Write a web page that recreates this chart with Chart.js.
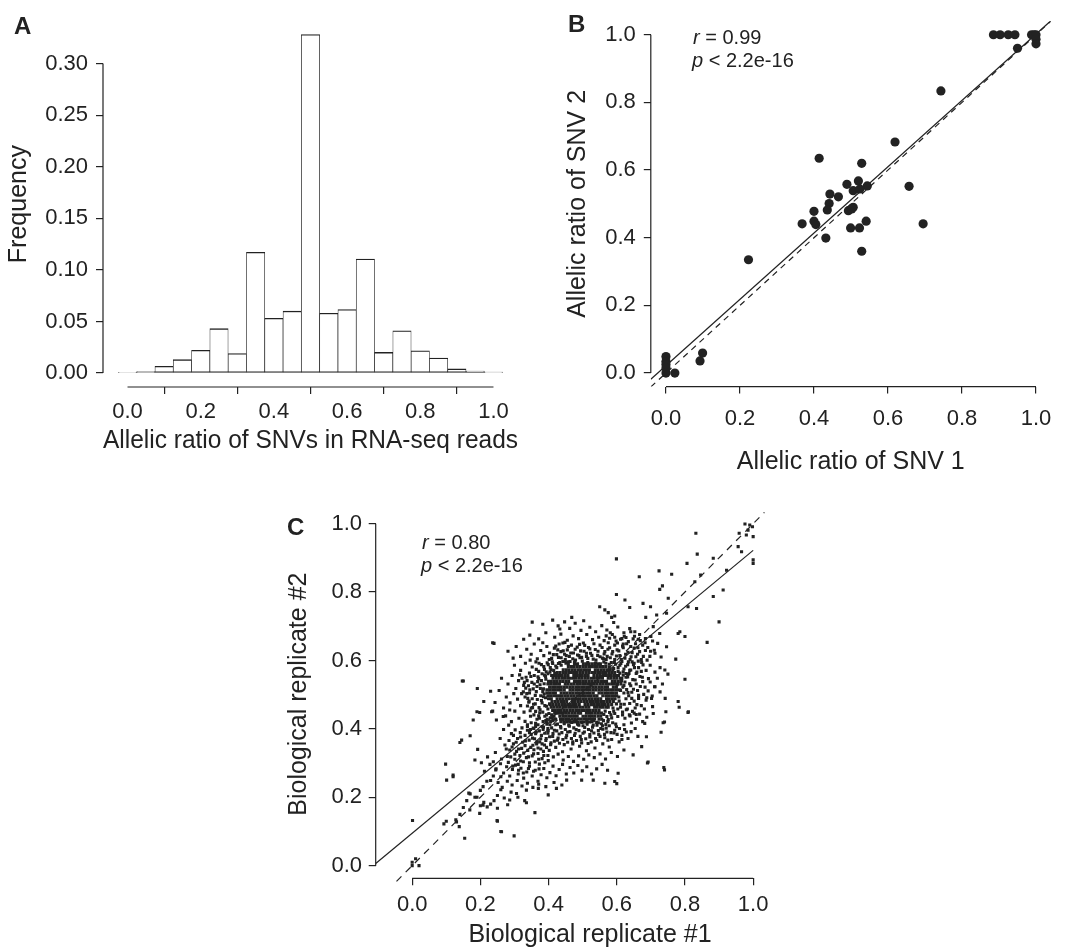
<!DOCTYPE html>
<html>
<head>
<meta charset="utf-8">
<script src="https://cdn.jsdelivr.net/npm/chart.js@4.4.1/dist/chart.umd.min.js"></script>
<style>
  body { margin: 0; background: #fff; width: 1072px; height: 948px; position: relative; overflow: hidden;
         font-family: "Liberation Sans", Arial, sans-serif; color: #222; }
  canvas { position: absolute; }
  .lbl { position: absolute; font-weight: bold; font-size: 24px; line-height: 1; }
  .note { position: absolute; font-size: 20px; line-height: 1; white-space: nowrap; }
</style>
</head>
<body>
<canvas id="histChart" width="530" height="470" style="left:0;top:0"></canvas>
<canvas id="snvChart" width="542" height="480" style="left:530px;top:0"></canvas>
<canvas id="repChart" width="540" height="458" style="left:280px;top:490px"></canvas>

<div class="lbl" style="left:14px;top:14px">A</div>
<div class="lbl" style="left:568px;top:12px">B</div>
<div class="lbl" style="left:287px;top:515px">C</div>
<div class="note" style="left:693px;top:27px"><i>r</i> = 0.99</div>
<div class="note" style="left:692px;top:50px"><i>p</i> &lt; 2.2e-16</div>
<div class="note" style="left:422px;top:532px"><i>r</i> = 0.80</div>
<div class="note" style="left:421px;top:555px"><i>p</i> &lt; 2.2e-16</div>

<script>
// ---- data ----
const binCenters = [0, 0.05, 0.1, 0.15, 0.2, 0.25, 0.3, 0.35, 0.4, 0.45, 0.5,
  0.55, 0.6, 0.65, 0.7, 0.75, 0.8, 0.85, 0.9, 0.95, 1.0];
const binFreq = [0.0005, 0.0015, 0.0065, 0.013, 0.022, 0.043, 0.019, 0.117, 0.053, 0.060, 0.328,
  0.058, 0.0615, 0.1105, 0.020, 0.041, 0.0215, 0.0145, 0.004, 0.002, 0.001];
const freqTicks = [0, 0.05, 0.10, 0.15, 0.20, 0.25, 0.30];
const ratioTicks = [0, 0.2, 0.4, 0.6, 0.8, 1.0];

// panel B: allelic ratio of SNV 1 vs SNV 2
const snvPairs = [
  [0.885, 1.0], [0.903, 1.0], [0.925, 1.0], [0.943, 1.0], [0.988, 1.0], [0.995, 1.0], [1.0, 1.0],
  [1.0, 0.987], [1.0, 0.973], [0.95, 0.96], [0.743, 0.834], [0.619, 0.683], [0.414, 0.635],
  [0.529, 0.62], [0.657, 0.552], [0.695, 0.441], [0.489, 0.558], [0.52, 0.568], [0.544, 0.553],
  [0.506, 0.539], [0.524, 0.544], [0.443, 0.529], [0.466, 0.521], [0.441, 0.501], [0.436, 0.482],
  [0.4, 0.478], [0.493, 0.48], [0.506, 0.49], [0.502, 0.485], [0.368, 0.441], [0.4, 0.449],
  [0.405, 0.439], [0.432, 0.399], [0.499, 0.429], [0.523, 0.429], [0.541, 0.449], [0.529, 0.36],
  [0.223, 0.335], [0, 0.049], [0, 0.034], [0, 0.025], [0, 0.015], [0, 0], [0.024, 0],
  [0.092, 0.036], [0.099, 0.059]
];
const snvFit = { intercept: 0.022, slope: 0.98 };

// panel C: replicate #1 vs #2
// solid black centre of the cloud, read row by row: [y, x values]
const coreRows = [
  [0.590, [0.476, 0.485, 0.502, 0.511, 0.519, 0.528, 0.536, 0.545, 0.552]],
  [0.582, [0.458, 0.467, 0.475, 0.484, 0.492, 0.501, 0.509, 0.518, 0.526, 0.535, 0.543, 0.552, 0.560, 0.568]],
  [0.573, [0.443, 0.452, 0.460, 0.469, 0.477, 0.486, 0.494, 0.503, 0.511, 0.520, 0.537, 0.545, 0.554, 0.562, 0.571, 0.579, 0.588]],
  [0.565, [0.425, 0.433, 0.442, 0.450, 0.459, 0.467, 0.476, 0.484, 0.493, 0.501, 0.510, 0.518, 0.527, 0.535, 0.544, 0.552, 0.561, 0.569, 0.578, 0.586, 0.594]],
  [0.556, [0.415, 0.423, 0.432, 0.440, 0.449, 0.457, 0.474, 0.482, 0.491, 0.499, 0.508, 0.516, 0.533, 0.542, 0.550, 0.559, 0.567, 0.576, 0.584, 0.593, 0.600, 0.605]],
  [0.548, [0.413, 0.422, 0.430, 0.439, 0.447, 0.456, 0.464, 0.473, 0.481, 0.490, 0.498, 0.507, 0.515, 0.524, 0.532, 0.541, 0.549, 0.558, 0.575, 0.583, 0.592, 0.600, 0.610]],
  [0.539, [0.400, 0.408, 0.417, 0.425, 0.434, 0.442, 0.451, 0.459, 0.476, 0.485, 0.493, 0.502, 0.510, 0.519, 0.527, 0.536, 0.544, 0.553, 0.561, 0.570, 0.587, 0.595, 0.604, 0.612]],
  [0.531, [0.398, 0.406, 0.415, 0.423, 0.432, 0.449, 0.457, 0.466, 0.474, 0.483, 0.491, 0.500, 0.508, 0.517, 0.525, 0.534, 0.542, 0.551, 0.559, 0.568, 0.576, 0.585, 0.593, 0.602, 0.612]],
  [0.522, [0.403, 0.412, 0.420, 0.429, 0.437, 0.446, 0.454, 0.463, 0.471, 0.480, 0.488, 0.497, 0.505, 0.514, 0.522, 0.531, 0.539, 0.548, 0.556, 0.565, 0.573, 0.590, 0.599]],
  [0.514, [0.395, 0.403, 0.412, 0.420, 0.429, 0.437, 0.446, 0.463, 0.471, 0.480, 0.488, 0.497, 0.505, 0.514, 0.522, 0.531, 0.539, 0.548, 0.556, 0.565, 0.573, 0.582, 0.590, 0.599, 0.608]],
  [0.505, [0.395, 0.403, 0.412, 0.420, 0.437, 0.446, 0.454, 0.463, 0.471, 0.480, 0.488, 0.497, 0.505, 0.514, 0.522, 0.531, 0.548, 0.556, 0.565, 0.573, 0.582, 0.590, 0.599]],
  [0.497, [0.398, 0.406, 0.415, 0.423, 0.432, 0.440, 0.449, 0.457, 0.466, 0.474, 0.483, 0.491, 0.500, 0.508, 0.517, 0.525, 0.534, 0.542, 0.559, 0.568, 0.576, 0.585, 0.593, 0.600]],
  [0.488, [0.400, 0.408, 0.425, 0.434, 0.442, 0.451, 0.459, 0.468, 0.476, 0.485, 0.493, 0.502, 0.510, 0.519, 0.527, 0.536, 0.544, 0.553, 0.570, 0.578, 0.587, 0.595]],
  [0.480, [0.410, 0.419, 0.427, 0.436, 0.444, 0.453, 0.470, 0.478, 0.487, 0.495, 0.504, 0.512, 0.521, 0.529, 0.538, 0.546, 0.555, 0.563, 0.572, 0.580, 0.590]],
  [0.471, [0.405, 0.413, 0.422, 0.430, 0.439, 0.447, 0.456, 0.464, 0.473, 0.481, 0.490, 0.507, 0.515, 0.524, 0.532, 0.541, 0.549, 0.558, 0.566, 0.575, 0.585]],
  [0.463, [0.408, 0.416, 0.425, 0.433, 0.442, 0.450, 0.459, 0.467, 0.476, 0.484, 0.493, 0.501, 0.510, 0.518, 0.535, 0.543, 0.552, 0.560, 0.569, 0.575]],
  [0.454, [0.412, 0.420, 0.429, 0.437, 0.446, 0.454, 0.463, 0.471, 0.480, 0.488, 0.497, 0.505, 0.514, 0.522, 0.531, 0.539, 0.548]],
  [0.446, [0.418, 0.426, 0.435, 0.443, 0.452, 0.460, 0.469, 0.477, 0.486, 0.494, 0.511, 0.520, 0.528, 0.537, 0.546, 0.555]],
  [0.437, [0.433, 0.442, 0.450, 0.459, 0.467, 0.476, 0.484, 0.501, 0.509, 0.518, 0.526, 0.535, 0.545]],
  [0.429, [0.435, 0.443, 0.452, 0.460, 0.469, 0.477, 0.486, 0.494, 0.503, 0.511, 0.520, 0.528, 0.535]],
  [0.420, [0.445, 0.453, 0.462, 0.470, 0.479, 0.487, 0.496, 0.504, 0.513, 0.520]]
];
// dense speckle hugging the centre, as x, y pairs
const midPairs = [
  // above
  0.402,0.603, 0.414,0.617, 0.421,0.642, 0.429,0.609, 0.436,0.626, 0.442,0.651, 0.449,0.603, 0.455,0.631,
  0.461,0.612, 0.467,0.645, 0.473,0.622, 0.479,0.601, 0.484,0.639, 0.489,0.614, 0.494,0.628, 0.499,0.598,
  0.506,0.644, 0.511,0.621, 0.515,0.606, 0.521,0.634, 0.527,0.615, 0.533,0.649, 0.539,0.601, 0.545,0.627,
  0.551,0.611, 0.557,0.638, 0.563,0.619, 0.569,0.603, 0.574,0.633, 0.581,0.608, 0.588,0.626, 0.594,0.645,
  0.599,0.613, 0.606,0.628, 0.613,0.603, 0.619,0.637, 0.626,0.618, 0.476,0.596, 0.515,0.594, 0.456,0.596,
  0.538,0.592, 0.561,0.605, 0.492,0.608, 0.427,0.631, 0.447,0.618,
  // upper sides
  0.364,0.574, 0.372,0.592, 0.381,0.561, 0.386,0.582, 0.393,0.567, 0.399,0.588, 0.407,0.573, 0.411,0.596,
  0.418,0.562, 0.424,0.579, 0.429,0.591, 0.437,0.586, 0.442,0.597, 0.451,0.592, 0.463,0.597,
  0.578,0.581, 0.584,0.594, 0.591,0.576, 0.597,0.589, 0.604,0.568, 0.609,0.586, 0.615,0.597, 0.621,0.575,
  0.627,0.562, 0.632,0.588, 0.638,0.571, 0.645,0.596, 0.652,0.579, 0.659,0.566, 0.568,0.592,
  // left
  0.322,0.548, 0.329,0.536, 0.333,0.519, 0.337,0.541, 0.341,0.526, 0.344,0.505, 0.348,0.553, 0.352,0.488,
  0.355,0.517, 0.358,0.531, 0.361,0.473, 0.364,0.509, 0.367,0.486, 0.369,0.552, 0.372,0.462, 0.375,0.529,
  0.377,0.497, 0.379,0.541, 0.381,0.476, 0.383,0.449, 0.385,0.517, 0.387,0.502, 0.389,0.437, 0.391,0.491,
  0.392,0.545, 0.394,0.466, 0.396,0.428, 0.398,0.458, 0.401,0.445, 0.403,0.473, 0.405,0.432, 0.409,0.441,
  0.413,0.424, 0.416,0.437, 0.421,0.428, 0.338,0.467, 0.346,0.453, 0.357,0.441, 0.366,0.428, 0.374,0.447,
  0.384,0.421, 0.395,0.414, 0.331,0.493, 0.326,0.508, 0.343,0.481, 0.353,0.462, 0.362,0.451, 0.371,0.438,
  0.388,0.557, 0.398,0.561, 0.409,0.556,
  // right
  0.614,0.541, 0.618,0.522, 0.621,0.505, 0.624,0.537, 0.627,0.488, 0.629,0.515, 0.632,0.552, 0.635,0.497,
  0.638,0.474, 0.641,0.526, 0.644,0.507, 0.647,0.544, 0.651,0.481, 0.654,0.461, 0.657,0.531, 0.661,0.512,
  0.664,0.489, 0.668,0.553, 0.672,0.468, 0.676,0.538, 0.679,0.501, 0.683,0.522, 0.599,0.473, 0.603,0.458,
  0.607,0.481, 0.611,0.463, 0.594,0.445, 0.589,0.461, 0.585,0.432, 0.579,0.448, 0.574,0.421, 0.571,0.436,
  0.566,0.452, 0.561,0.424, 0.553,0.437, 0.548,0.428, 0.541,0.419, 0.617,0.441, 0.628,0.456, 0.639,0.438,
  0.622,0.472, 0.646,0.451, 0.657,0.442, 0.633,0.559, 0.619,0.557, 0.609,0.563, 0.688,0.491, 0.693,0.547,
  // below
  0.338,0.407, 0.344,0.389, 0.349,0.418, 0.353,0.373, 0.357,0.401, 0.362,0.386, 0.366,0.362, 0.369,0.412,
  0.373,0.394, 0.377,0.371, 0.381,0.356, 0.385,0.405, 0.389,0.387, 0.392,0.366, 0.396,0.418, 0.399,0.395,
  0.403,0.377, 0.406,0.354, 0.409,0.403, 0.413,0.386, 0.417,0.364, 0.421,0.412, 0.424,0.394, 0.428,0.373,
  0.432,0.358, 0.435,0.407, 0.439,0.389, 0.442,0.369, 0.446,0.415, 0.449,0.398, 0.453,0.381, 0.456,0.361,
  0.459,0.411, 0.463,0.392, 0.467,0.372, 0.471,0.356, 0.474,0.403, 0.478,0.387, 0.482,0.366, 0.485,0.416,
  0.489,0.395, 0.493,0.378, 0.497,0.359, 0.501,0.409, 0.505,0.391, 0.509,0.371, 0.513,0.414, 0.517,0.398,
  0.521,0.383, 0.525,0.362, 0.529,0.405, 0.533,0.388, 0.538,0.372, 0.542,0.411, 0.546,0.395, 0.551,0.378,
  0.555,0.415, 0.559,0.399, 0.564,0.384, 0.569,0.402, 0.574,0.367, 0.578,0.409, 0.583,0.389, 0.588,0.418,
  0.594,0.396, 0.601,0.384, 0.608,0.401, 0.615,0.369, 0.621,0.412, 0.628,0.391, 0.461,0.424, 0.475,0.422,
  0.498,0.419, 0.512,0.423, 0.527,0.421, 0.442,0.426, 0.419,0.429, 0.406,0.421,
  // lower-left lobe along the diagonal
  0.282,0.302, 0.289,0.318, 0.295,0.291, 0.301,0.311, 0.306,0.334, 0.311,0.296, 0.316,0.322, 0.321,0.343,
  0.326,0.304, 0.331,0.351, 0.335,0.316, 0.339,0.337, 0.344,0.301, 0.348,0.346, 0.352,0.321, 0.357,0.339,
  0.361,0.303, 0.365,0.356, 0.369,0.328, 0.373,0.297, 0.377,0.341, 0.381,0.313, 0.385,0.334, 0.389,0.301,
  0.394,0.346, 0.398,0.322, 0.312,0.279, 0.326,0.271, 0.341,0.284, 0.356,0.276, 0.372,0.283, 0.293,0.347,
  0.305,0.361, 0.318,0.376, 0.332,0.365, 0.347,0.398, 0.362,0.407, 0.297,0.381, 0.284,0.366, 0.276,0.341,
  // upper-right lobe along the diagonal
  0.602,0.651, 0.611,0.662, 0.619,0.648, 0.627,0.667, 0.634,0.655, 0.641,0.641, 0.648,0.663, 0.655,0.649,
  0.662,0.637, 0.669,0.658, 0.676,0.645, 0.683,0.652, 0.691,0.638, 0.645,0.623, 0.656,0.611, 0.667,0.626,
  0.678,0.612, 0.689,0.601, 0.699,0.627, 0.639,0.603, 0.651,0.592, 0.663,0.598, 0.677,0.587, 0.621,0.681,
  0.638,0.693, 0.653,0.684, 0.667,0.676, 0.594,0.668, 0.581,0.681, 0.569,0.672
];
// lighter speckled ring further out, as x, y pairs
const ringPairs = [
  // upper band
  0.352,0.712, 0.383,0.706, 0.412,0.718, 0.428,0.701, 0.447,0.713, 0.462,0.694, 0.478,0.709, 0.495,0.688,
  0.503,0.716, 0.521,0.697, 0.538,0.684, 0.556,0.702, 0.571,0.689, 0.587,0.676, 0.603,0.698, 0.622,0.671,
  0.641,0.684, 0.663,0.662, 0.345,0.674, 0.371,0.663, 0.392,0.681, 0.418,0.668, 0.436,0.677, 0.455,0.659,
  0.472,0.672, 0.488,0.664, 0.512,0.676, 0.529,0.661, 0.547,0.668, 0.563,0.658, 0.579,0.665, 0.598,0.657,
  0.615,0.664, 0.652,0.671, 0.684,0.664, 0.705,0.657, 0.327,0.662, 0.468,0.726, 0.433,0.692, 0.591,0.711,
  // 0.60 - 0.65
  0.281,0.627, 0.305,0.641, 0.318,0.612, 0.336,0.633, 0.349,0.618, 0.358,0.648, 0.367,0.605, 0.377,0.629,
  0.386,0.614, 0.395,0.641, 0.403,0.622, 0.409,0.606, 0.417,0.636, 0.424,0.617, 0.431,0.648, 0.437,0.608,
  0.443,0.628, 0.452,0.614, 0.458,0.641, 0.465,0.622, 0.471,0.605, 0.478,0.633, 0.485,0.616, 0.491,0.647,
  0.497,0.609, 0.504,0.627, 0.511,0.612, 0.517,0.638, 0.523,0.621, 0.531,0.604, 0.537,0.632, 0.544,0.615,
  0.551,0.645, 0.558,0.607, 0.565,0.626, 0.572,0.612, 0.579,0.637, 0.586,0.619, 0.594,0.603, 0.601,0.631,
  0.609,0.614, 0.617,0.642, 0.624,0.607, 0.633,0.624, 0.642,0.611, 0.651,0.636, 0.661,0.618, 0.672,0.603,
  0.684,0.629, 0.697,0.612, 0.712,0.621, 0.296,0.607, 0.448,0.653, 0.502,0.651, 0.575,0.652, 0.629,0.649,
  0.346,0.601, 0.383,0.652,
  // beside the top of the centre
  0.300,0.586, 0.318,0.571, 0.332,0.592, 0.344,0.563, 0.352,0.581, 0.363,0.596, 0.371,0.568, 0.379,0.588,
  0.388,0.574, 0.396,0.593, 0.405,0.579, 0.412,0.591, 0.421,0.584, 0.433,0.594, 0.447,0.597, 0.458,0.589,
  0.562,0.596, 0.578,0.589, 0.593,0.594, 0.604,0.579, 0.612,0.591, 0.619,0.567, 0.626,0.583, 0.634,0.596,
  0.641,0.572, 0.649,0.588, 0.657,0.562, 0.664,0.579, 0.673,0.594, 0.686,0.571, 0.698,0.586, 0.712,0.566,
  0.727,0.579,
  // left of centre
  0.262,0.548, 0.281,0.531, 0.293,0.556, 0.304,0.518, 0.312,0.541, 0.321,0.503, 0.327,0.527, 0.334,0.551,
  0.339,0.489, 0.345,0.514, 0.351,0.536, 0.356,0.472, 0.361,0.498, 0.366,0.524, 0.371,0.547, 0.375,0.456,
  0.379,0.483, 0.383,0.509, 0.387,0.532, 0.391,0.553, 0.394,0.441, 0.389,0.468, 0.385,0.494, 0.376,0.518,
  0.368,0.538, 0.358,0.556, 0.349,0.461, 0.342,0.478, 0.336,0.503, 0.328,0.449, 0.318,0.468, 0.309,0.487,
  0.298,0.503, 0.287,0.476, 0.276,0.493, 0.268,0.461, 0.301,0.452, 0.313,0.431, 0.331,0.422, 0.347,0.437,
  0.362,0.416, 0.373,0.431, 0.381,0.407, 0.392,0.424, 0.404,0.412, 0.411,0.432, 0.398,0.401, 0.355,0.402,
  0.338,0.412, 0.322,0.403, 0.291,0.421, 0.274,0.438, 0.255,0.512, 0.243,0.477, 0.236,0.452, 0.315,0.558,
  0.404,0.566, 0.415,0.571,
  // right of centre
  0.615,0.548, 0.621,0.527, 0.627,0.551, 0.633,0.506, 0.638,0.532, 0.644,0.489, 0.649,0.516, 0.654,0.543,
  0.659,0.471, 0.664,0.498, 0.669,0.524, 0.675,0.551, 0.681,0.458, 0.686,0.484, 0.692,0.511, 0.698,0.537,
  0.704,0.496, 0.711,0.523, 0.719,0.548, 0.727,0.508, 0.612,0.472, 0.617,0.449, 0.624,0.431, 0.631,0.458,
  0.637,0.441, 0.643,0.417, 0.651,0.446, 0.658,0.428, 0.667,0.443, 0.676,0.421, 0.688,0.434, 0.603,0.436,
  0.597,0.414, 0.591,0.452, 0.606,0.493, 0.611,0.512, 0.601,0.529, 0.575,0.427, 0.583,0.441, 0.568,0.413,
  0.556,0.428, 0.562,0.442, 0.734,0.531, 0.742,0.489, 0.636,0.562, 0.672,0.568,
  // below centre
  0.268,0.398, 0.283,0.411, 0.291,0.386, 0.302,0.397, 0.309,0.372, 0.317,0.389, 0.324,0.361, 0.331,0.381,
  0.338,0.396, 0.343,0.367, 0.349,0.384, 0.354,0.352, 0.359,0.371, 0.364,0.391, 0.369,0.344, 0.374,0.362,
  0.379,0.381, 0.384,0.398, 0.388,0.353, 0.393,0.372, 0.398,0.387, 0.402,0.337, 0.407,0.359, 0.412,0.378,
  0.417,0.396, 0.421,0.346, 0.426,0.367, 0.431,0.385, 0.436,0.403, 0.441,0.333, 0.446,0.354, 0.451,0.374,
  0.456,0.391, 0.461,0.408, 0.466,0.341, 0.471,0.362, 0.476,0.381, 0.481,0.398, 0.486,0.413, 0.491,0.349,
  0.496,0.369, 0.501,0.387, 0.506,0.404, 0.511,0.336, 0.516,0.357, 0.521,0.376, 0.526,0.394, 0.531,0.411,
  0.536,0.344, 0.541,0.366, 0.547,0.384, 0.553,0.401, 0.559,0.356, 0.565,0.374, 0.571,0.391, 0.578,0.347,
  0.585,0.369, 0.592,0.388, 0.599,0.406, 0.607,0.362, 0.615,0.381, 0.623,0.398, 0.633,0.372, 0.642,0.392,
  0.654,0.401, 0.662,0.378, 0.258,0.372, 0.272,0.353, 0.286,0.338, 0.297,0.356, 0.312,0.341, 0.327,0.329,
  0.341,0.318, 0.356,0.327, 0.371,0.311, 0.386,0.322, 0.399,0.307, 0.414,0.318, 0.428,0.326, 0.443,0.309,
  0.458,0.319, 0.473,0.305, 0.488,0.321, 0.503,0.311, 0.518,0.324, 0.534,0.316, 0.551,0.327, 0.567,0.312,
  0.584,0.331, 0.602,0.319, 0.621,0.338, 0.279,0.319, 0.301,0.326, 0.318,0.306, 0.436,0.421, 0.452,0.427,
  0.468,0.419, 0.481,0.426, 0.426,0.414, 0.489,0.411, 0.532,0.424, 0.546,0.418, 0.558,0.409,
  // lower band
  0.228,0.296, 0.246,0.283, 0.259,0.298, 0.268,0.271, 0.277,0.289, 0.286,0.262, 0.294,0.281, 0.303,0.294,
  0.311,0.268, 0.319,0.285, 0.327,0.256, 0.336,0.274, 0.344,0.291, 0.352,0.262, 0.361,0.279, 0.369,0.247,
  0.378,0.266, 0.386,0.284, 0.395,0.257, 0.404,0.272, 0.413,0.291, 0.422,0.263, 0.431,0.281, 0.441,0.296,
  0.452,0.268, 0.463,0.287, 0.474,0.271, 0.486,0.293, 0.499,0.277, 0.512,0.289, 0.526,0.268, 0.541,0.283,
  0.557,0.296, 0.573,0.279, 0.238,0.262, 0.252,0.243, 0.264,0.229, 0.279,0.247, 0.293,0.236, 0.308,0.249,
  0.322,0.233, 0.338,0.241, 0.354,0.229, 0.371,0.238, 0.392,0.231, 0.416,0.243, 0.439,0.236, 0.212,0.276,
  0.219,0.247, 0.203,0.301, 0.221,0.318, 0.244,0.331, 0.262,0.312
];
// scattered points outside the cloud
const cloudOutliers = [
  [0.976, 0.999], [0.990, 0.996], [0.998, 0.991], [0.985, 0.981], [0.959, 0.972], [0.980, 0.967],
  [1.0, 0.962], [0.956, 0.933], [0.966, 0.918], [1.0, 0.894], [1.0, 0.884], [0.832, 0.972],
  [0.836, 0.911], [0.806, 0.884], [0.883, 0.899], [0.922, 0.864], [0.912, 0.806], [0.883, 0.787],
  [0.900, 0.713], [0.865, 0.653], [0.846, 0.850], [0.829, 0.830], [0.809, 0.757], [0.834, 0.752],
  [0.785, 0.684], [0.800, 0.670], [0.773, 0.604], [0.800, 0.545], [0.783, 0.463], [0.809, 0.448],
  [0.599, 0.897], [0.666, 0.845], [0.724, 0.862], [0.761, 0.852], [0.734, 0.818], [0.726, 0.808],
  [0.599, 0.793], [0.624, 0.777], [0.638, 0.755], [0.677, 0.767], [0.699, 0.757], [0.751, 0.782],
  [0.746, 0.738], [0.717, 0.733], [0.685, 0.726], [0.550, 0.757], [0.565, 0.748], [0.575, 0.740],
  [0.585, 0.726], [0.594, 0.730], [0.707, 0.699], [0.726, 0.679], [0.780, 0.679], [0.746, 0.640],
  [0.741, 0.572], [0.236, 0.652], [0.147, 0.540], [0.191, 0.518], [0.145, 0.367], [0.098, 0.297],
  [0.101, 0.250], [0.120, 0.265], [0.001, 0.132], [0.093, 0.122], [0.128, 0.134], [0.138, 0.114],
  [0.154, 0.080], [0.169, 0.163], [0.262, 0.099], [0.299, 0.087], [0.360, 0.155], [0.249, 0.132],
  [0.198, 0.153], [0.208, 0.177], [0.184, 0.200], [0.166, 0.212], [0.208, 0.231], [0.230, 0.249],
  [0.245, 0.280], [0.260, 0.260], [0.184, 0.309], [0.238, 0.304], [0.192, 0.340], [0.179, 0.426],
  [0.198, 0.448], [0.233, 0.450], [0.247, 0.426], [0.267, 0.436], [0.286, 0.455], [0.692, 0.303],
  [0.738, 0.287], [0.594, 0.246], [0.604, 0.270], [0.565, 0.241], [0.531, 0.250], [0.497, 0.250],
  [0.453, 0.250], [0.423, 0.226], [0.399, 0.207], [0.370, 0.226], [0.335, 0.221], [0.335, 0.184],
  [0.306, 0.211], [0.286, 0.192], [0.648, 0.324], [0.673, 0.348], [0.687, 0.377], [0.736, 0.418],
  [0.744, 0.450], [0.705, 0.465], [0.702, 0.489], [0.712, 0.523], [0.682, 0.416], [0.707, 0.445],
  [0.20, 0.22], [0.26, 0.222], [0.29, 0.215], [0.17, 0.21], [0.25, 0.205], [0.31, 0.20], [0.19, 0.20],
  [0.24, 0.19], [0.27, 0.198], [0.16, 0.19], [0.21, 0.185], [0.23, 0.18], [0.33, 0.19], [0.20, 0.175],
  [0.22, 0.172], [0.28, 0.178], [0.15, 0.17], [0.25, 0.168], [0.14, 0.15], [0.10, 0.13], [0.13, 0.128],
  [0.25, 0.13], [0.26, 0.10], [0.15, 0.54], [0.23, 0.51], [0.21, 0.48], [0.19, 0.45], [0.17, 0.38],
  [0.14, 0.36], [0.12, 0.26], [0.78, 0.48], [0.81, 0.45], [0.75, 0.56], [0.74, 0.42], [0.73, 0.39],
  [0.74, 0.28], [0.69, 0.30], [0.60, 0.24], [0.24, 0.65], [0.73, 0.61], [0.72, 0.65], [0.70, 0.67],
  [0.71, 0.63], [0.0, 0.01], [0.01, 0.02], [0.02, 0.0], [0.0, 0.0]
];
const repFit = { intercept: 0.095, slope: 0.827 };

// ---- shared styling ----
const ink = "#222";
Chart.defaults.font.family = '"Liberation Sans", Arial, sans-serif';
Chart.defaults.color = ink;

// R-style axes: the axis line only spans first to last tick
const axisLines = {
  id: "axisLines",
  afterDraw(chart) {
    const { ctx, chartArea, scales } = chart;
    const x = scales.x, y = scales.y;
    ctx.save();
    ctx.strokeStyle = ink;
    ctx.lineWidth = 1.2;
    ctx.beginPath();
    ctx.moveTo(chartArea.left, y.getPixelForValue(y.ticks[0].value));
    ctx.lineTo(chartArea.left, y.getPixelForValue(y.ticks[y.ticks.length - 1].value));
    ctx.moveTo(x.getPixelForValue(x.ticks[0].value), chartArea.bottom);
    ctx.lineTo(x.getPixelForValue(x.ticks[x.ticks.length - 1].value), chartArea.bottom);
    ctx.stroke();
    ctx.restore();
  },
};

function axis(opts) {
  return {
    type: "linear",
    min: opts.min,
    max: opts.max,
    offset: false,
    afterBuildTicks: (s) => { s.ticks = opts.ticks.map((v) => ({ value: v })); },
    afterFit: (s) => { if (opts.width) s.width = opts.width; if (opts.height) s.height = opts.height; },
    grid: { drawOnChartArea: false, tickLength: 7, lineWidth: 1.2, color: ink },
    border: { display: false },
    ticks: {
      padding: opts.pad,
      maxRotation: 0,
      autoSkip: false,
      font: { size: 22 },
      callback: (v) => Number(v).toFixed(opts.digits),
    },
    title: {
      display: true,
      text: opts.title,
      font: { size: 25, lineHeight: 1 },
      padding: opts.titlePad,
    },
  };
}

const baseOptions = (padding, scales) => ({
  responsive: false,
  animation: false,
  layout: { padding },
  plugins: { legend: { display: false }, tooltip: { enabled: false } },
  scales,
});

// ---- A: histogram ----
new Chart(document.getElementById("histChart"), {
  type: "bar",
  data: {
    datasets: [{
      data: binCenters.map((c, i) => ({ x: c, y: binFreq[i] })),
      backgroundColor: "#fff",
      borderColor: ink,
      borderWidth: { left: 0.7, right: 0.7, top: 1.3, bottom: 1.3 },
      borderSkipped: false,
      barPercentage: 1,
      categoryPercentage: 1,
    }],
  },
  options: baseOptions({ left: 0, top: 18, right: 12, bottom: 0 }, {
    x: axis({ min: -0.067, max: 1.067, ticks: ratioTicks, digits: 1, pad: 5, height: 83,
      title: "Allelic ratio of SNVs in RNA-seq reads", titlePad: { top: 0, bottom: 16 } }),
    y: axis({ min: -0.0135, max: 0.341, ticks: freqTicks, digits: 2, pad: 8, width: 103,
      title: "Frequency", titlePad: { top: 7, bottom: 0 } }),
  }),
  plugins: [axisLines],
});

// ---- B: SNV 1 vs SNV 2 ----
const bX0 = -0.041, bX1 = 1.04;
new Chart(document.getElementById("snvChart"), {
  type: "scatter",
  data: {
    datasets: [
      {
        data: snvPairs.map(([x, y]) => ({ x, y })),
        pointRadius: 4.6,
        pointBackgroundColor: ink,
        pointBorderWidth: 0,
      },
      {
        type: "line",
        data: [{ x: bX0, y: bX0 }, { x: bX1, y: bX1 }],
        borderColor: ink, borderWidth: 1.2, borderDash: [6, 5], pointRadius: 0,
      },
      {
        type: "line",
        data: [bX0, bX1].map((x) => ({ x, y: snvFit.intercept + snvFit.slope * x })),
        borderColor: ink, borderWidth: 1.2, pointRadius: 0,
      },
    ],
  },
  options: baseOptions({ left: 0, top: 19.4, right: 21.2, bottom: 0 }, {
    x: axis({ min: bX0, max: bX1, ticks: ratioTicks, digits: 1, pad: 12, height: 93.4,
      title: "Allelic ratio of SNV 1", titlePad: { top: 0, bottom: 5 } }),
    y: axis({ min: -0.04, max: 1.04, ticks: ratioTicks, digits: 1, pad: 8, width: 120.8,
      title: "Allelic ratio of SNV 2", titlePad: { top: 36, bottom: 0 } }),
  }),
  plugins: [axisLines],
});

// ---- C: biological replicates ----
const repPoints = [];
coreRows.forEach(([y, xs]) => xs.forEach((x) => repPoints.push({ x, y })));
[midPairs, ringPairs].forEach((flat) => {
  for (let i = 0; i < flat.length; i += 2) repPoints.push({ x: flat[i], y: flat[i + 1] });
});
cloudOutliers.forEach(([x, y]) => repPoints.push({ x, y }));
const cX0 = -0.107;
new Chart(document.getElementById("repChart"), {
  type: "scatter",
  data: {
    datasets: [
      {
        data: repPoints,
        pointStyle: "rect",
        pointRadius: 2.2,
        pointBackgroundColor: ink,
        pointBorderWidth: 0,
      },
      {
        type: "line",
        data: [{ x: -0.046, y: -0.046 }, { x: 1.033, y: 1.033 }],
        borderColor: ink, borderWidth: 1.2, borderDash: [7, 6], pointRadius: 0, clip: false,
      },
      {
        type: "line",
        data: [cX0, 1.0].map((x) => ({ x, y: repFit.intercept + repFit.slope * x })),
        borderColor: ink, borderWidth: 1.2, pointRadius: 0,
      },
    ],
  },
  options: baseOptions({ left: 0, top: 20, right: 15.7, bottom: 0 }, {
    x: axis({ min: cX0, max: 1.15, ticks: ratioTicks, digits: 1, pad: 6, height: 69.7,
      title: "Biological replicate #1", titlePad: { top: 0, bottom: 0 } }),
    y: axis({ min: -0.037, max: 1.04, ticks: ratioTicks, digits: 1, pad: 6.7, width: 95.7,
      title: "Biological replicate #2", titlePad: { top: 7, bottom: 0 } }),
  }),
  plugins: [axisLines],
});
</script>
</body>
</html>
